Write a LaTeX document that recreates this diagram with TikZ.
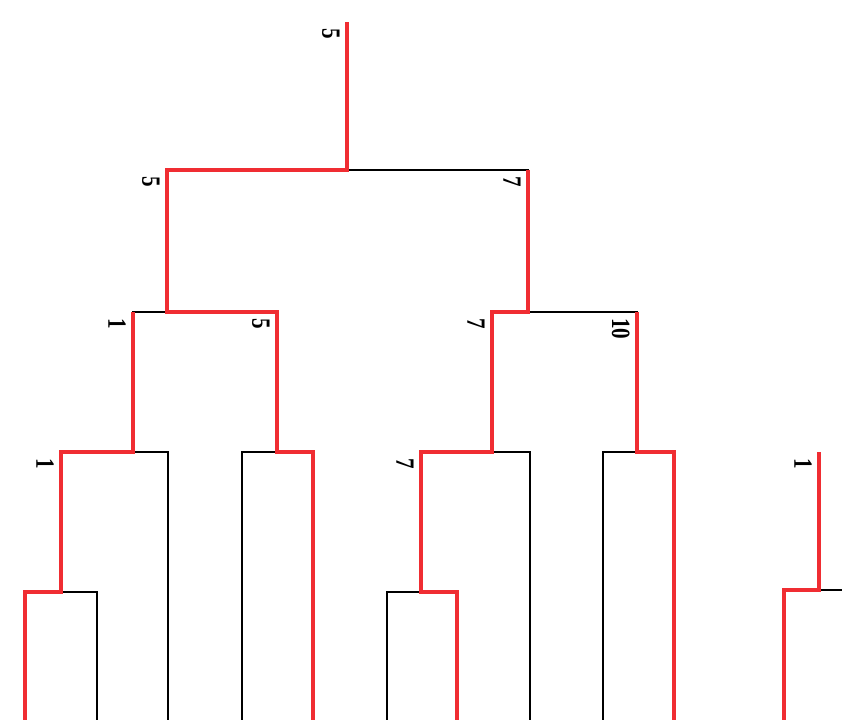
\documentclass[tikz,border=0pt]{standalone}
\usepackage{fontspec}
\setmainfont{Liberation Serif}
\definecolor{winred}{RGB}{240,45,50}
\begin{document}
\begin{tikzpicture}[x=0.03cm, y=-0.03cm,
  every node/.style={font=\fontsize{18}{21}\selectfont\bfseries},
  score/.style={xshift=-6pt, yshift=-5pt, rotate=-90, yscale=1.25, anchor=north west, inner sep=0pt},
  bracket/.style={black, line width=1.1pt},
  win/.style={winred, line width=3.8pt, line join=miter}]

\clip (0,0) rectangle (842,719);

% match points: x of the player, y of the bar below it
\coordinate (top)   at (347,22);
\coordinate (n)     at (347,170);
\coordinate (n1)    at (167,312);
\coordinate (n2)    at (528,312);
\coordinate (n11)   at (133,452);
\coordinate (n12)   at (277,452);
\coordinate (n21)   at (492,452);
\coordinate (n22)   at (637,452);
\coordinate (n111)  at (61,592);
\coordinate (n112)  at (168,730);
\coordinate (n121)  at (242,730);
\coordinate (n122)  at (313,730);
\coordinate (n211)  at (421,592);
\coordinate (n212)  at (530,730);
\coordinate (n221)  at (603,730);
\coordinate (n222)  at (674,730);
\coordinate (n1111) at (25,730);
\coordinate (n1112) at (97,730);
\coordinate (n2111) at (387,730);
\coordinate (n2112) at (457,730);
% the next tree, cut off at the right
\coordinate (mtop)  at (819,452);
\coordinate (m)     at (819,590);
\coordinate (m1)    at (784,730);
\coordinate (m2)    at (880,730);

% the bracket
\draw[bracket] (top) -- (n);
\foreach \p/\c in {n/n1, n/n2, n1/n11, n1/n12, n2/n21, n2/n22,
                   n11/n111, n11/n112, n12/n121, n12/n122,
                   n21/n211, n21/n212, n22/n221, n22/n222,
                   n111/n1111, n111/n1112, n211/n2111, n211/n2112,
                   m/m1, m/m2}
  \draw[bracket] (\p) -| (\c);
\draw[bracket] (mtop) -- (m);

% the players' runs, in red
\draw[win] (n122) |- (n12) |- (n1) |- (n) -- (top);
\draw[win] (n2112) |- (n211) |- (n21) |- (n2) -- (n2 |- n);
\draw[win] (n222) |- (n22) -- (n22 |- n2);
\draw[win] (n1111) |- (n111) |- (n11) -- (n11 |- n1);
\draw[win] (m1) |- (m) -- (mtop);

% scores
\node[score] (stop) at (top) {5};
\foreach \c/\p/\s in {n1/n/5, n2/n/7, n11/n1/1, n12/n1/5,
                      n21/n2/7, n22/n2/10, n111/n11/1, n211/n21/7}
  \node[score] (s\c) at (\c |- \p) {\s};
\node[score] (smtop) at (mtop) {1};

\end{tikzpicture}
\end{document}
